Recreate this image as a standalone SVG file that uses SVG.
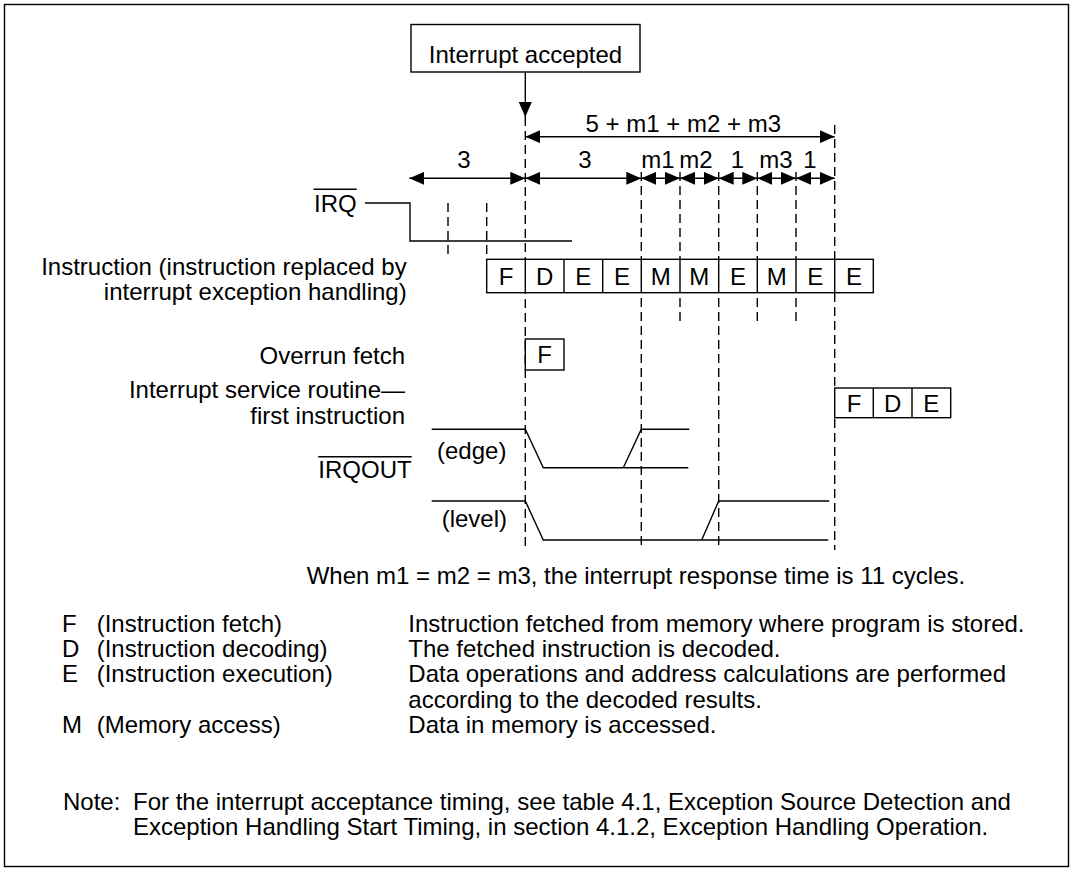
<svg xmlns="http://www.w3.org/2000/svg" width="1073" height="871" viewBox="0 0 1073 871">
<defs>
<marker id="ah" viewBox="0 0 15 13" refX="15" refY="6.5" markerWidth="15" markerHeight="13" markerUnits="userSpaceOnUse" orient="auto-start-reverse"><path d="M0,0 L15,6.5 L0,13 z" fill="#000"/></marker>
<style>
text{font-family:"Liberation Sans",Arial,Helvetica,sans-serif;font-size:24px;fill:#000}
.ln{stroke:#000;stroke-width:1.4;fill:none}
.dash{stroke:#000;stroke-width:1.4;stroke-dasharray:9 5;fill:none}
.box{stroke:#000;stroke-width:1.4;fill:#fff}
.dim{stroke:#000;stroke-width:1.4;fill:none;marker-start:url(#ah);marker-end:url(#ah)}
.r{text-anchor:end}
.m{text-anchor:middle}
</style>
</defs>
<rect x="0" y="0" width="1073" height="871" fill="#fff"/>
<rect id="frame" x="4.5" y="4.5" width="1064" height="862" class="ln"/>

<g id="connectors">
  <line x1="525.3" y1="72" x2="525.3" y2="117" class="ln" marker-end="url(#ah)"/>
  <line x1="525.3" y1="136.7" x2="834.7" y2="136.7" class="dim"/>
  <line x1="409.3" y1="178.3" x2="525.3" y2="178.3" class="dim"/>
  <line x1="525.3" y1="178.3" x2="641.3" y2="178.3" class="dim"/>
  <line x1="641.3" y1="178.3" x2="680" y2="178.3" class="dim"/>
  <line x1="680" y1="178.3" x2="718.7" y2="178.3" class="dim"/>
  <line x1="718.7" y1="178.3" x2="757.3" y2="178.3" class="dim"/>
  <line x1="757.3" y1="178.3" x2="796" y2="178.3" class="dim"/>
  <line x1="796" y1="178.3" x2="834.7" y2="178.3" class="dim"/>
  <path class="dash" d="M448,203V254 M486.7,203V259 M525.3,117V550 M641.3,172V548 M680,172V322 M718.7,172V548 M757.3,172V322 M796,172V322 M834.7,125V550"/>
</g>

<g id="dim-labels">
  <text x="683.3" y="131.5" class="m">5 + m1 + m2 + m3</text>
  <text x="464" y="168" class="m">3</text>
  <text x="585" y="168" class="m">3</text>
  <text x="658" y="168" class="m">m1</text>
  <text x="696" y="168" class="m">m2</text>
  <text x="737.5" y="168" class="m">1</text>
  <text x="776" y="168" class="m">m3</text>
  <text x="810" y="168" class="m">1</text>
</g>

<g id="interrupt-accepted">
  <rect x="411" y="24.5" width="229" height="47.5" class="box"/>
  <text x="525.5" y="63" class="m">Interrupt accepted</text>
</g>

<g id="irq">
  <text x="356.7" y="211.7" class="r">IRQ</text>
  <line x1="313.5" y1="189.3" x2="356.7" y2="189.3" class="ln"/>
  <path d="M365,203H410V241H572" class="ln"/>
</g>

<g id="instruction">
  <text x="406.7" y="275" class="r">Instruction (instruction replaced by</text>
  <text x="406.7" y="300" class="r">interrupt exception handling)</text>
  <rect x="486.7" y="259.3" width="386.6" height="33.4" class="box"/>
  <path class="ln" d="M525.3,259.3V292.7 M564,259.3V292.7 M602.7,259.3V292.7 M641.3,259.3V292.7 M680,259.3V292.7 M718.7,259.3V292.7 M757.3,259.3V292.7 M796,259.3V292.7 M834.7,259.3V292.7"/>
  <text x="506" y="285" class="m">F</text>
  <text x="544.7" y="285" class="m">D</text>
  <text x="583.3" y="285" class="m">E</text>
  <text x="622" y="285" class="m">E</text>
  <text x="660.7" y="285" class="m">M</text>
  <text x="699.3" y="285" class="m">M</text>
  <text x="738" y="285" class="m">E</text>
  <text x="776.7" y="285" class="m">M</text>
  <text x="815.3" y="285" class="m">E</text>
  <text x="854" y="285" class="m">E</text>
</g>

<g id="overrun-fetch">
  <text x="405" y="363.5" class="r">Overrun fetch</text>
  <rect x="525.3" y="339" width="38.7" height="31" class="box"/>
  <text x="544.7" y="363" class="m">F</text>
</g>

<g id="isr-first-instruction">
  <text x="405" y="398" class="r">Interrupt service routine—</text>
  <text x="405" y="424" class="r">first instruction</text>
  <rect x="834.7" y="388" width="116" height="29.7" class="box"/>
  <path class="ln" d="M873.3,388V417.7 M912,388V417.7"/>
  <text x="854" y="411.7" class="m">F</text>
  <text x="892.7" y="411.7" class="m">D</text>
  <text x="931.3" y="411.7" class="m">E</text>
</g>

<g id="irqout">
  <text x="411.7" y="478.3" class="r">IRQOUT</text>
  <line x1="318.2" y1="456.7" x2="411.7" y2="456.7" class="ln"/>
  <text x="437" y="459">(edge)</text>
  <path class="ln" d="M431.7,429.3H525.3L543.3,467.7H688.3 M623.3,467.7L641.3,429.3H689.3"/>
  <text x="441.7" y="527">(level)</text>
  <path class="ln" d="M431.7,501H525.3L543.3,540H828.3 M701.7,540L718.7,501H829.3"/>
</g>

<g id="summary">
  <text x="306.7" y="584">When m1 = m2 = m3, the interrupt response time is 11 cycles.</text>
</g>

<g id="legend">
  <text x="62" y="631.7">F</text><text x="96.7" y="631.7">(Instruction fetch)</text>
  <text x="408.3" y="631.7">Instruction fetched from memory where program is stored.</text>
  <text x="62" y="657">D</text><text x="96.7" y="657">(Instruction decoding)</text>
  <text x="408.3" y="657">The fetched instruction is decoded.</text>
  <text x="62" y="682.3">E</text><text x="96.7" y="682.3">(Instruction execution)</text>
  <text x="408.3" y="682.3">Data operations and address calculations are performed</text>
  <text x="408.3" y="707.6">according to the decoded results.</text>
  <text x="62" y="733">M</text><text x="96.7" y="733">(Memory access)</text>
  <text x="408.3" y="733">Data in memory is accessed.</text>
</g>

<g id="note">
  <text x="63" y="810">Note:</text>
  <text x="133" y="810">For the interrupt acceptance timing, see table 4.1, Exception Source Detection and</text>
  <text x="133" y="835">Exception Handling Start Timing, in section 4.1.2, Exception Handling Operation.</text>
</g>
</svg>
